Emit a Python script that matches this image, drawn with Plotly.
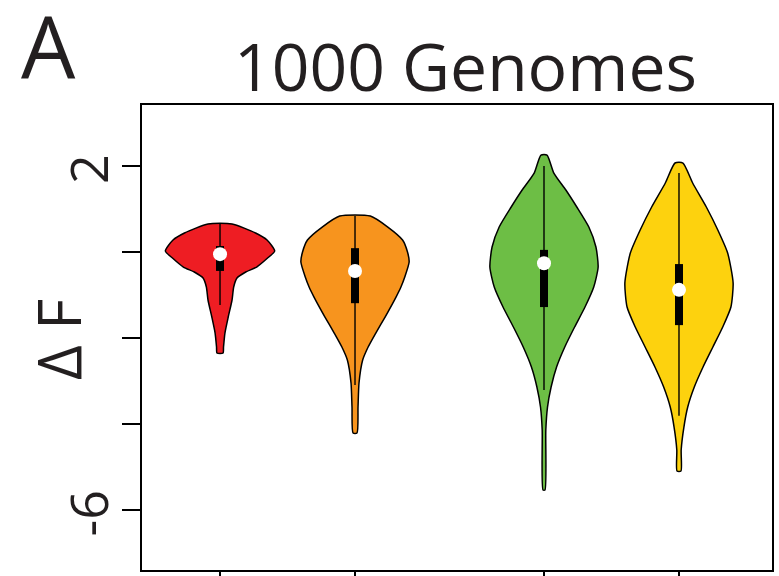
import plotly.graph_objects as go

# ---------------- data ----------------
groups = ["G1", "G2", "G3", "G4"]
positions = [1.0, 2.0, 3.4, 4.4]
colors = ["#EE1D23", "#F7941E", "#6DBE45", "#FDD20E"]

# violin outlines: y levels (ΔF) and relative half-width (density, max = 1)
red_y = [0.651, 0.442, 0.279, 0.023, -0.140, -0.349, -0.465, -0.605, -0.814, -1.116, -1.512, -1.884, -2.209, -2.349]
red_d = [0.22, 0.65, 0.86, 1.00, 0.87, 0.67, 0.47, 0.31, 0.25, 0.22, 0.15, 0.09, 0.064, 0.055]

orange_y = [0.837, 0.581, 0.279, 0.0, -0.233, -0.581, -0.814, -1.047, -1.512, -1.884, -2.209, -2.512, -3.047, -3.605, -4.209]
orange_d = [0.28, 0.60, 0.87, 0.96, 0.99, 0.91, 0.84, 0.75, 0.55, 0.38, 0.24, 0.14, 0.073, 0.055, 0.036]

green_y = [2.256, 1.837, 1.442, 1.047, 0.581, 0.116, -0.349, -0.814, -1.279, -1.744, -2.209, -2.674, -3.140, -3.605, -4.140, -5.535]
green_d = [0.055, 0.18, 0.40, 0.60, 0.82, 0.95, 0.99, 0.91, 0.75, 0.56, 0.38, 0.23, 0.13, 0.064, 0.033, 0.018]

yellow_y = [2.070, 1.605, 1.047, 0.512, -0.023, -0.721, -1.279, -1.744, -2.209, -2.674, -3.140, -3.605, -4.070, -4.605, -5.093]
yellow_d = [0.073, 0.25, 0.50, 0.71, 0.89, 0.99, 0.95, 0.80, 0.62, 0.44, 0.28, 0.16, 0.09, 0.04, 0.036]

# box statistics: upper whisker, Q3, median, Q1, lower whisker
whisker_hi = [0.65, 0.84, 2.00, 1.84]
q3 = [0.14, 0.09, 0.05, -0.28]
median = [-0.05, -0.44, -0.26, -0.88]
q1 = [-0.44, -1.19, -1.28, -1.70]
whisker_lo = [-1.23, -3.09, -3.21, -3.81]

y_tickvals = [2, 0, -2, -4, -6]
y_ticktext = ["2", "", "", "", "-6"]

title_text = "1000 Genomes"
panel_label = "A"
y_label = "Δ F"

# ---------------- figure ----------------
profiles = [(red_y, red_d), (orange_y, orange_d), (green_y, green_d), (yellow_y, yellow_d)]
max_half = 0.405  # half-width in x units for density 1

fig = go.Figure()
for i, (ys, ds) in enumerate(profiles):
    p = positions[i]
    xs = [p + d * max_half for d in ds] + [p - d * max_half for d in reversed(ds)]
    yy = list(ys) + list(reversed(ys))
    xs.append(xs[0]); yy.append(yy[0])
    fig.add_trace(go.Scatter(x=xs, y=yy, mode="lines", fill="toself",
                             fillcolor=colors[i], line=dict(color="black", width=1.5, shape="spline", smoothing=0.6),
                             hoverinfo="skip", showlegend=False))
    # whisker
    fig.add_trace(go.Scatter(x=[p, p], y=[whisker_lo[i], whisker_hi[i]], mode="lines",
                             line=dict(color="black", width=1.4), showlegend=False, hoverinfo="skip"))
    # box
    fig.add_trace(go.Scatter(x=[p, p], y=[q1[i], q3[i]], mode="lines",
                             line=dict(color="black", width=8), showlegend=False, hoverinfo="skip"))
    # median
    fig.add_trace(go.Scatter(x=[p], y=[median[i]], mode="markers",
                             marker=dict(color="white", size=14, line=dict(width=0)),
                             showlegend=False, hoverinfo="skip"))

font_family = "Open Sans, Liberation Sans, Arial, sans-serif"

fig.update_layout(
    width=779, height=576,
    margin=dict(l=142, r=7, t=105, b=6, autoexpand=False),
    paper_bgcolor="white", plot_bgcolor="white",
    font=dict(family=font_family, color="#231F20"),
    xaxis=dict(range=[0.422, 5.089], showgrid=False, zeroline=False, automargin=False,
               showline=True, linecolor="black", linewidth=2, mirror=True,
               ticks="outside", ticklen=18, tickwidth=1.5, tickcolor="black",
               tickvals=positions, showticklabels=False),
    yaxis=dict(range=[-7.395, 3.419], showgrid=False, zeroline=False, automargin=False,
               showline=True, linecolor="black", linewidth=2, mirror=True,
               ticks="outside", ticklen=18, tickwidth=1.5, tickcolor="black",
               tickvals=y_tickvals, ticktext=y_ticktext, tickangle=-90,
               ticklabelstandoff=-7, ticklabelshift=11,
               tickfont=dict(size=52, family=font_family, color="#231F20")),
    annotations=[
        dict(text=title_text, xref="paper", yref="paper", x=0.513, y=1.085,
             xanchor="center", yanchor="middle", showarrow=False,
             font=dict(size=66, family=font_family, color="#231F20")),
        dict(text=panel_label, xref="paper", yref="paper", x=-0.149, y=1.257,
             xanchor="center", yanchor="top", showarrow=False,
             font=dict(size=86, family=font_family, color="#231F20")),
        dict(text=y_label, xref="paper", yref="paper", x=-0.133, y=0.495,
             xanchor="center", yanchor="middle", showarrow=False, textangle=-90,
             font=dict(size=60, family=font_family, color="#231F20")),
    ],
)

fig.write_html("out.html", config={"displayModeBar": False},
               post_script="document.body.style.margin='0';document.body.style.overflow='hidden';")
